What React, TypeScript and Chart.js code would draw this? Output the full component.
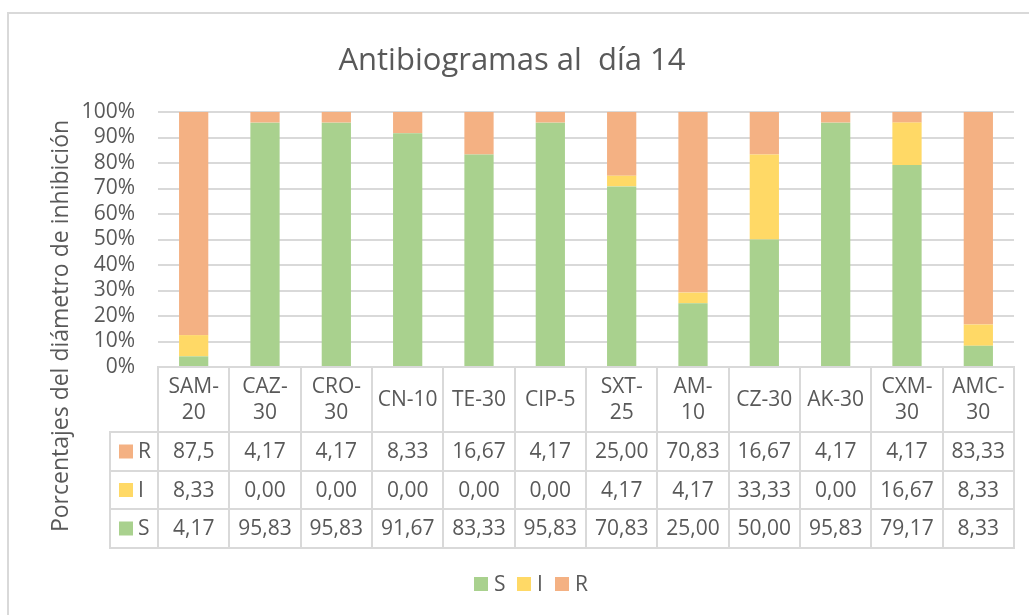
import React, { useEffect, useRef } from "react";
import { Chart, registerables } from "chart.js";

Chart.register(...registerables);

const chartTitle = "Antibiogramas al  día 14";
const yAxisTitle = "Porcentajes del diámetro de inhibición";
const categories: string[][] = [
  ["SAM-", "20"], ["CAZ-", "30"], ["CRO-", "30"], ["CN-10"], ["TE-30"], ["CIP-5"],
  ["SXT-", "25"], ["AM-", "10"], ["CZ-30"], ["AK-30"], ["CXM-", "30"], ["AMC-", "30"],
];
const seriesNames = ["S", "I", "R"];
const seriesColors = ["#a9d18e", "#ffd966", "#f4b183"];
const sValues = ["4,17", "95,83", "95,83", "91,67", "83,33", "95,83", "70,83", "25,00", "50,00", "95,83", "79,17", "8,33"];
const iValues = ["8,33", "0,00", "0,00", "0,00", "0,00", "0,00", "4,17", "4,17", "33,33", "0,00", "16,67", "8,33"];
const rValues = ["87,5", "4,17", "4,17", "8,33", "16,67", "4,17", "25,00", "70,83", "16,67", "4,17", "4,17", "83,33"];
const yTickValues = [0, 10, 20, 30, 40, 50, 60, 70, 80, 90, 100];

const toNum = (s: string) => parseFloat(s.replace(",", "."));
const seriesValues = [sValues, iValues, rValues];

const TEXT = "#595959";
const LINE = "#d9d9d9";
const FONT = '"Open Sans", sans-serif';

const overlayPlugin = {
  id: "overlay",
  afterDraw(chart: any) {
    const ctx = chart.ctx as CanvasRenderingContext2D;
    const area = chart.chartArea;
    const xs = chart.scales.x;
    const n = categories.length;
    const colW = (area.right - area.left) / n;
    ctx.save();

    // outer chart border (left & top visible)
    ctx.fillStyle = LINE;
    ctx.fillRect(7, 12, 2, 615);
    ctx.fillRect(7, 12, 1029, 2);

    // title
    ctx.fillStyle = TEXT;
    ctx.font = `31px ${FONT}`;
    ctx.textAlign = "center";
    ctx.textBaseline = "alphabetic";
    ctx.fillText(chartTitle, 512, 70);

    // y axis title
    ctx.save();
    ctx.translate(61, 326);
    ctx.rotate(-Math.PI / 2);
    ctx.font = `23px ${FONT}`;
    ctx.textBaseline = "middle";
    ctx.fillText(yAxisTitle, 0, 0);
    ctx.restore();

    // data table
    const headTop = area.bottom;
    const headBottom = 432;
    const rowBounds = [432, 471, 509, 548];
    const labelLeft = 110;
    ctx.fillStyle = LINE;
    ctx.fillRect(area.left - 1, headTop - 1, area.right - area.left + 2, 2);
    for (const y of rowBounds) ctx.fillRect(labelLeft - 1, y - 1, area.right - labelLeft + 2, 2);
    ctx.fillRect(labelLeft - 1, headBottom - 1, 2, rowBounds[3] - headBottom + 2);
    for (let i = 0; i <= n; i++) {
      const x = Math.round(area.left + i * colW);
      ctx.fillRect(x - 1, headTop - 1, 2, rowBounds[3] - headTop + 2);
    }

    ctx.font = `21px ${FONT}`;
    ctx.textAlign = "center";
    ctx.textBaseline = "middle";
    ctx.fillStyle = TEXT;
    const headMid = (headTop + headBottom) / 2;
    categories.forEach((lines, i) => {
      const cx = xs.getPixelForValue(i);
      const lh = 26;
      lines.forEach((ln, k) => {
        const y = headMid + (k - (lines.length - 1) / 2) * lh;
        ctx.fillText(ln, cx, y + 1);
      });
    });

    const order = [2, 1, 0];
    order.forEach((si, r) => {
      const cy = (rowBounds[r] + rowBounds[r + 1]) / 2;
      ctx.fillStyle = seriesColors[si];
      ctx.fillRect(119, cy - 7, 14, 14);
      ctx.fillStyle = TEXT;
      ctx.textAlign = "left";
      ctx.fillText(seriesNames[si], 138, cy + 1);
      ctx.textAlign = "center";
      seriesValues[si].forEach((v, i) => {
        ctx.fillText(v, xs.getPixelForValue(i), cy + 1);
      });
    });

    // legend
    const legendX = [474, 517, 555];
    const legendY = 584;
    seriesNames.forEach((name, si) => {
      ctx.fillStyle = seriesColors[si];
      ctx.fillRect(legendX[si], legendY - 7, 14, 14);
      ctx.fillStyle = TEXT;
      ctx.textAlign = "left";
      ctx.fillText(name, legendX[si] + 20, legendY + 1);
    });

    ctx.restore();
  },
};

export default function App() {
  const ref = useRef<HTMLCanvasElement | null>(null);
  useEffect(() => {
    if (!ref.current) return;
    const chart = new Chart(ref.current, {
      type: "bar",
      data: {
        labels: categories.map((c) => c.join("")),
        datasets: seriesNames.map((name, si) => ({
          label: name,
          data: seriesValues[si].map(toNum),
          backgroundColor: seriesColors[si],
          borderWidth: 0,
          barPercentage: 0.41,
          categoryPercentage: 1,
        })),
      },
      options: {
        responsive: false,
        animation: false,
        layout: { padding: { top: 112, right: 15, left: 0, bottom: 0 } },
        plugins: {
          legend: { display: false },
          title: { display: false },
          tooltip: { enabled: false },
        },
        scales: {
          x: {
            stacked: true,
            grid: { display: false },
            border: { display: false },
            ticks: { display: false },
            afterFit: (s: any) => { s.height = 248; },
          },
          y: {
            stacked: true,
            min: 0,
            max: 100,
            afterBuildTicks: (s: any) => { s.ticks = yTickValues.map((v) => ({ value: v })); },
            grid: { color: LINE, lineWidth: 2, drawTicks: false },
            border: { display: false },
            ticks: {
              autoSkip: false,
              padding: 23,
              color: TEXT,
              font: { family: FONT, size: 21 },
              callback: (v: any) => `${v}%`,
            },
            afterFit: (s: any) => { s.width = 158; },
          },
        },
      },
      plugins: [overlayPlugin],
    } as any);
    return () => chart.destroy();
  }, []);
  return (
    <div style={{ position: "fixed", left: 0, top: 0, width: 1029, height: 615, background: "#fff" }}>
      <canvas ref={ref} width={1029} height={615} style={{ display: "block" }} />
    </div>
  );
}
